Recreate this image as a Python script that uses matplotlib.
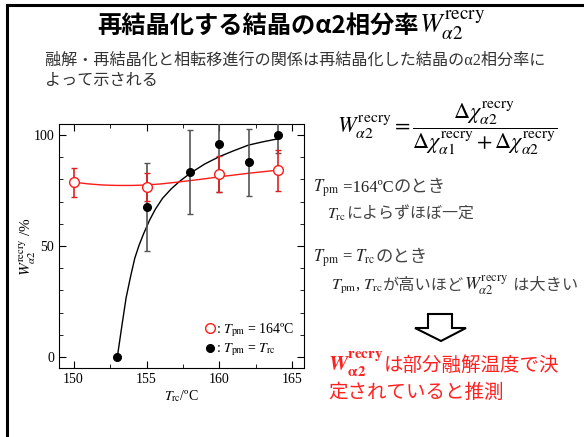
import matplotlib
matplotlib.use("Agg")
from matplotlib import pyplot as plt
from matplotlib.lines import Line2D
from matplotlib.patches import Polygon

plt.rcParams["font.family"] = ["Liberation Serif", "Noto Sans CJK JP", "DejaVu Sans"]
plt.rcParams["mathtext.fontset"] = "stix"

# data
red_t = [150, 155, 160, 164]
red_w = [78.7, 76.8, 82.4, 84.1]
red_err = [6.5, 6.3, 8.0, 9.2]

black_t = [153, 155, 158, 160, 162, 164]
black_w = [0, 67.4, 83.3, 96.2, 87.7, 100]
black_err = [0, 19.8, 19.0, 22.0, 15.0, 8.0]

# fitted curves as drawn in the figure
red_fit_t = [150, 151, 152, 153, 154, 155, 156, 157, 158, 159, 160, 161, 162, 163, 164]
red_fit_w = [78.8, 78.0, 77.5, 77.3, 77.3, 77.5, 78.0, 78.7, 79.5, 80.3, 81.2, 82.0, 82.8, 83.5, 84.2]

black_fit_t = [153, 153.3, 153.6, 153.9, 154.2, 154.5, 154.8, 155.2, 155.6, 156.1,
               156.7, 157.3, 158, 159, 160, 161, 162, 163, 164]
black_fit_w = [0, 13.5, 26.6, 36.0, 44.6, 50.5, 55.5, 61.5, 66.5, 71.5,
               75.8, 79.3, 82.8, 87.0, 90.3, 93.0, 95.5, 97.0, 98.3]

W, H = 584, 437
fig = plt.figure(figsize=(5.84, 4.37), dpi=100)
renderer = fig.canvas.get_renderer()
jp = ["Liberation Serif", "Noto Sans CJK JP"]


def place(pieces, x, y, **common):
    # write pieces one after another on one baseline (mathtext has no CJK glyphs)
    x = x / W
    for s, extra in pieces:
        kw = dict(common)
        kw.update(extra)
        t = fig.text(x, 1 - y / H, s, ha="left", va="baseline", **kw)
        x += t.get_window_extent(renderer).width / fig.bbox.width


# slide frame
fig.add_artist(Line2D([7 / W, 7 / W], [0, 1 - 5 / H], color="black", lw=2.2))
fig.add_artist(Line2D([7 / W, 1], [1 - 5 / H, 1 - 5 / H], color="black", lw=2.2))

place([("再結晶化する結晶のα2相分率", {}),
       (r"$W_{\alpha2}^{\rm recry}$", {"fontweight": "normal", "fontsize": 19.5})],
      97, 33, fontsize=17.5, fontweight="bold", family=["Noto Sans CJK JP"])

fig.text(45 / W, 1 - 65 / H,
         "融解・再結晶化と相転移進行の関係は再結晶化した結晶のα2相分率に",
         ha="left", va="baseline", fontsize=11.6, color="#333333", family=jp)
fig.text(45 / W, 1 - 85 / H, "よって示される",
         ha="left", va="baseline", fontsize=11.6, color="#333333", family=jp)

fig.text(337 / W, 1 - 128 / H,
         r"$W_{\alpha2}^{\rm recry} = \dfrac{\Delta\chi_{\alpha2}^{\rm recry}}"
         r"{\Delta\chi_{\alpha1}^{\rm recry} + \Delta\chi_{\alpha2}^{\rm recry}}$",
         ha="left", va="center", fontsize=16)

body = dict(color="#222222", family=jp)
grey = {"color": "#444444"}
place([(r"$T_{\rm pm}$", {}), (" =164ºC", {}), ("のとき", dict(grey, fontsize=12.5))],
      313, 192, fontsize=12, **body)
place([(r"$T_{\rm rc}$", {}), ("によらずほぼ一定", grey)],
      327, 219, fontsize=11.5, **body)
place([(r"$T_{\rm pm}$ = $T_{\rm rc}$", {}), ("のとき", dict(grey, fontsize=12.5))],
      313, 262, fontsize=12, **body)
place([(r"$T_{\rm pm}$, $T_{\rm rc}$", {}), ("が高いほど", grey),
       (r"$W_{\alpha2}^{\rm recry}$", {"fontsize": 13}), (" は大きい", grey)],
      331, 290, fontsize=11.7, **body)

arrow = [(428, 314), (452, 314), (452, 328), (466, 328), (441, 341),
         (415, 328), (428, 328)]
fig.add_artist(Polygon([(x / W, 1 - y / H) for x, y in arrow], closed=True,
                       facecolor="white", edgecolor="black", lw=1.5,
                       transform=fig.transFigure))

place([(r"$\mathbfit{W}_{\mathbf{\alpha2}}^{\mathbf{recry}}$", {"fontsize": 15.5}),
       ("は部分融解温度で決", {})],
      328, 371, fontsize=14, color="#ff2020", family=jp)
fig.text(328 / W, 1 - 398 / H, "定されていると推測",
         ha="left", va="baseline", fontsize=14, color="#ff2020", family=jp)

ax = fig.add_axes([59 / W, 1 - 368 / H, 245 / W, 244 / H])

blk = ax.errorbar(black_t, black_w, yerr=black_err, fmt="o", color="black",
                  ecolor="#555555", elinewidth=1.2, capsize=2, capthick=1,
                  markersize=5.5, zorder=3)
ax.plot(black_fit_t, black_fit_w, color="black", lw=1, zorder=2)
red = ax.errorbar(red_t, red_w, yerr=red_err, fmt="o", color="#ff1a1a",
                  mfc="white", mec="#ff1a1a", ecolor="#e02020", elinewidth=1.2,
                  capsize=2, capthick=1, markersize=7, mew=1, zorder=4)
ax.plot(red_fit_t, red_fit_w, color="#ff1a1a", lw=1, zorder=2)

ax.set_xlim(149, 165.8)
ax.set_ylim(-5, 105)
ax.set_xticks([150, 155, 160, 165])
ax.set_yticks([0, 50, 100])
ax.set_xticks([152.5, 157.5, 162.5], minor=True)
ax.set_yticks([10, 20, 30, 40, 60, 70, 80, 90], minor=True)
ax.tick_params(which="both", direction="in", top=True, right=True, labelsize=10)
ax.tick_params(which="major", length=5)
ax.tick_params(which="minor", length=3)
ax.set_xlabel(r"$T_{\rm rc}$/ºC", fontsize=10, labelpad=2)
ax.set_ylabel(r"$W_{\alpha2}^{\rm recry}$ /%", fontsize=11)
ax.yaxis.set_label_coords(-0.085, 0.5)

ax.legend([red[0], blk[0]],
          [r": $T_{\rm pm}$ = 164ºC", r": $T_{\rm pm}$ = $T_{\rm rc}$"],
          loc="lower right", frameon=False, fontsize=10, handlelength=0.6,
          handletextpad=0.1, borderaxespad=0.3, labelspacing=0.2)

fig.savefig("out.png", dpi=100)
